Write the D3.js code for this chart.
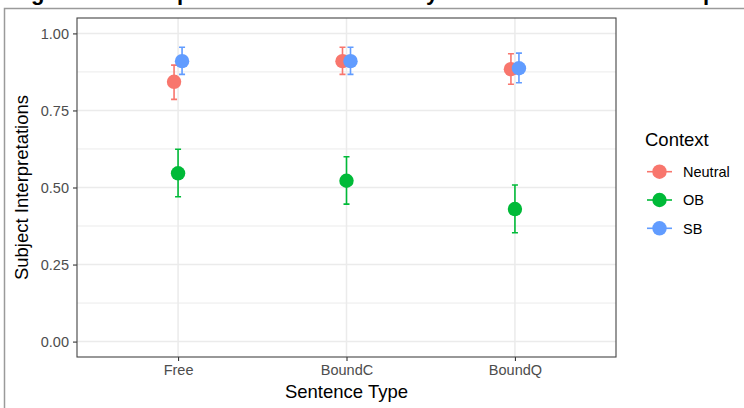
<!DOCTYPE html>
<html><head><meta charset="utf-8">
<script src="https://cdn.jsdelivr.net/npm/d3@7"></script>
<style>html,body{margin:0;padding:0;background:#fff;}svg{display:block;font-family:"Liberation Sans",Arial,sans-serif;}</style>
</head><body>
<svg id="chart" width="744" height="408"></svg>
<script>
const categories = ["Free", "BoundC", "BoundQ"];
const contexts = ["Neutral", "OB", "SB"];
const colors = ["#F8766D", "#00BA38", "#619CFF"];
const neutralMean = [0.843, 0.910, 0.884];
const neutralLow  = [0.786, 0.867, 0.835];
const neutralHigh = [0.897, 0.955, 0.934];
const obMean = [0.546, 0.522, 0.430];
const obLow  = [0.470, 0.446, 0.353];
const obHigh = [0.624, 0.600, 0.508];
const sbMean = [0.910, 0.910, 0.887];
const sbLow  = [0.867, 0.867, 0.840];
const sbHigh = [0.955, 0.955, 0.936];
const yTicks = [0, 0.25, 0.5, 0.75, 1.0];
const yMinor = [0.125, 0.375, 0.625, 0.875];

const series = [
  {name: contexts[0], mean: neutralMean, lo: neutralLow, hi: neutralHigh, color: colors[0], dodge: -1},
  {name: contexts[1], mean: obMean, lo: obLow, hi: obHigh, color: colors[1], dodge: 0},
  {name: contexts[2], mean: sbMean, lo: sbLow, hi: sbHigh, color: colors[2], dodge: 1}
];

const svg = d3.select("#chart");
const P = {l: 77, r: 616, t: 18, b: 357};

// outer frame
svg.append("path").attr("d", `M4.5,420 V8.5 H760`).attr("fill", "none").attr("stroke", "#9a9a9a").attr("stroke-width", 1.5);

// cut-off caption descenders
[["g", 31], ["p", 177], ["y", 426], ["p", 703]].forEach(([ch, x]) => {
  svg.append("text").attr("x", x).attr("y", -0.5).attr("font-size", 22).attr("font-weight", "bold").attr("fill", "#000").text(ch);
});

const x = d3.scalePoint().domain(categories).range([P.l, P.r]).padding(0.6);
const y = d3.scaleLinear().domain([-0.05, 1.05]).range([P.b, P.t]);

const g = svg.append("g");
// grid
g.selectAll(".ymin").data(yMinor).join("line").attr("x1", P.l).attr("x2", P.r)
  .attr("y1", d => y(d)).attr("y2", d => y(d)).attr("stroke", "#EBEBEB").attr("stroke-width", 1);
g.selectAll(".ymaj").data(yTicks).join("line").attr("x1", P.l).attr("x2", P.r)
  .attr("y1", d => y(d)).attr("y2", d => y(d)).attr("stroke", "#EBEBEB").attr("stroke-width", 1.5);
g.selectAll(".xmaj").data(categories).join("line").attr("y1", P.t).attr("y2", P.b)
  .attr("x1", d => x(d)).attr("x2", d => x(d)).attr("stroke", "#EBEBEB").attr("stroke-width", 1.5);

// axes
const yAxis = svg.append("g").attr("transform", `translate(${P.l},0)`)
  .call(d3.axisLeft(y).tickValues(yTicks).tickFormat(d3.format(".2f")).tickSizeOuter(0).tickSize(4).tickPadding(4));
const xAxis = svg.append("g").attr("transform", `translate(0,${P.b})`)
  .call(d3.axisBottom(x).tickSizeOuter(0).tickSize(4).tickPadding(4));
[yAxis, xAxis].forEach(a => {
  a.select(".domain").remove();
  a.selectAll(".tick line").attr("stroke", "#333").attr("stroke-width", 1.1);
  a.selectAll(".tick text").attr("fill", "#4D4D4D").attr("font-size", 14.5).attr("font-family", "Liberation Sans, Arial, sans-serif");
});

// panel border
svg.append("rect").attr("x", P.l).attr("y", P.t).attr("width", P.r - P.l).attr("height", P.b - P.t)
  .attr("fill", "none").attr("stroke", "#444").attr("stroke-width", 1.1);

// data
const dodgePx = 4, cap = 3, r = 7.2;
series.forEach(s => {
  const sg = svg.append("g");
  categories.forEach((c, i) => {
    const cx = x(c) + s.dodge * dodgePx;
    sg.append("path").attr("d", `M${cx - cap},${y(s.hi[i])}H${cx + cap}M${cx},${y(s.hi[i])}V${y(s.lo[i])}M${cx - cap},${y(s.lo[i])}H${cx + cap}`)
      .attr("fill", "none").attr("stroke", s.color).attr("stroke-width", 1.6);
  });
});
series.forEach(s => {
  svg.append("g").selectAll("circle").data(categories).join("circle")
    .attr("cx", (c) => x(c) + s.dodge * dodgePx).attr("cy", (c, i) => y(s.mean[i]))
    .attr("r", r).attr("fill", s.color);
});

// titles
svg.append("text").attr("x", (P.l + P.r) / 2).attr("y", 398).attr("text-anchor", "middle")
  .attr("font-size", 18.5).attr("fill", "#000").text("Sentence Type");
svg.append("text").attr("transform", `translate(28,${(P.t + P.b) / 2}) rotate(-90)`).attr("text-anchor", "middle")
  .attr("font-size", 18.5).attr("fill", "#000").text("Subject Interpretations");

// legend
const lg = svg.append("g");
lg.append("text").attr("x", 645).attr("y", 146).attr("font-size", 18.5).attr("fill", "#000").text("Context");
series.forEach((s, i) => {
  const cy = 171.7 + i * 28.3;
  lg.append("line").attr("x1", 647).attr("x2", 672).attr("y1", cy).attr("y2", cy).attr("stroke", s.color).attr("stroke-width", 1.6);
  lg.append("circle").attr("cx", 659.5).attr("cy", cy).attr("r", r).attr("fill", s.color);
  lg.append("text").attr("x", 683).attr("y", cy + 5.2).attr("font-size", 14.5).attr("fill", "#000").text(s.name);
});
</script>
</body></html>
